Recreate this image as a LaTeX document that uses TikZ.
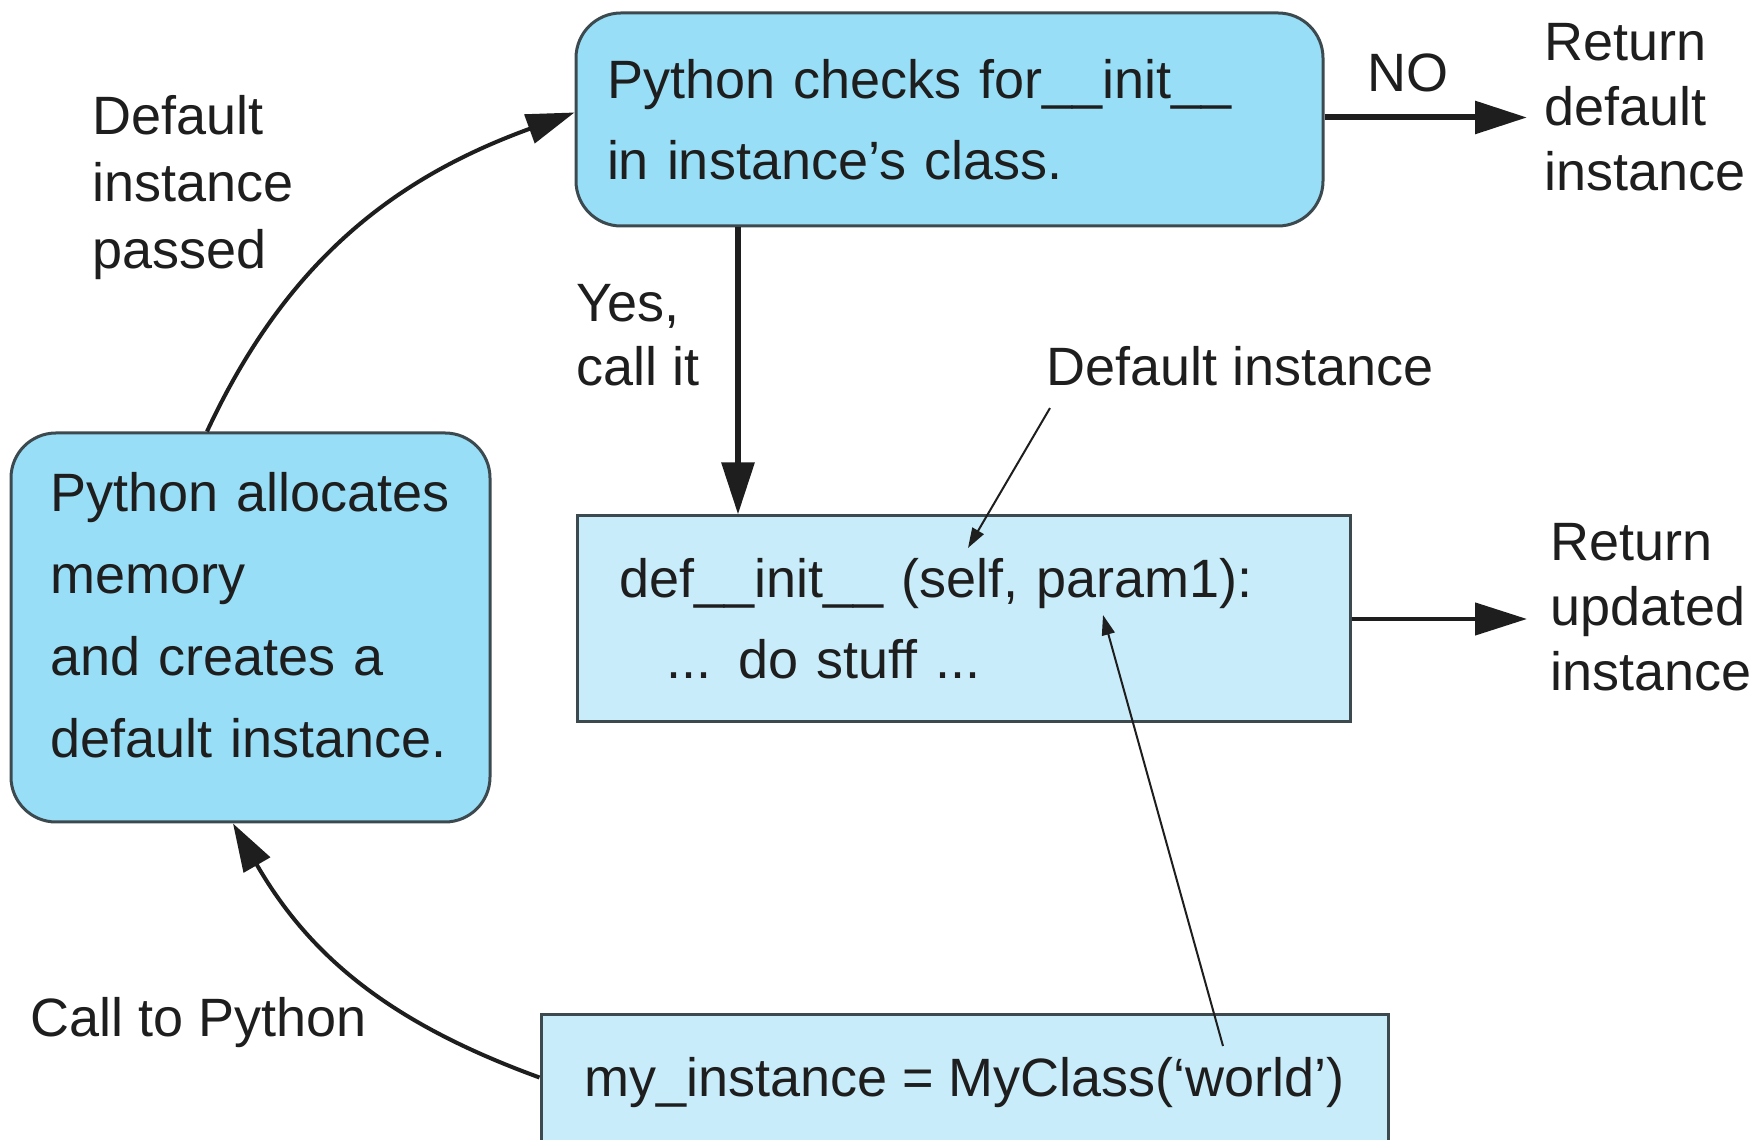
\documentclass[tikz,border=0pt]{standalone}
\usepackage{fontspec}
\setmainfont{Liberation Sans}
\usetikzlibrary{arrows.meta}
\definecolor{boxA}{HTML}{98DEF6}
\definecolor{boxB}{HTML}{C8ECF9}
\definecolor{edgec}{HTML}{3C4A50}
\definecolor{ink}{HTML}{1E1E1E}
\begin{document}
\begin{tikzpicture}[x=1pt,y=1pt,
  txt/.style={font=\fontsize{54}{81}\selectfont, text=ink},
  bigbox/.style={txt, draw=edgec, line width=3pt, fill=boxA, rounded corners=45pt, align=left, inner ysep=0pt},
  codebox/.style={txt, draw=edgec, line width=3pt, fill=boxB, inner ysep=0pt},
  lbl/.style={font=\fontsize{54}{66}\selectfont, text=ink, align=left, anchor=west, inner sep=0pt},
  bigarrow/.style={draw=ink, line width=6pt, -{Triangle[length=52pt,width=32pt]}},
  midarrow/.style={draw=ink, line width=4.5pt, -{Triangle[length=52pt,width=32pt]}},
  curvearrow/.style={draw=ink, line width=4pt, -{Triangle[length=48pt,width=30pt]}},
  thinarrow/.style={draw=ink, line width=2pt, -{Triangle[length=20pt,width=13pt]}}
]
\fill[white] (0,0) rectangle (1754,1140);
\useasboundingbox (0,0) rectangle (1754,1140);

% boxes
\node[bigbox, minimum width=747pt, minimum height=213pt, text width=685pt, inner xsep=31pt]
  (check) at (949.5,1020.5) {Python checks for\_\_init\_\_\\in instance's class.};
\node[bigbox, font=\fontsize{54}{82}\selectfont, minimum width=479pt, minimum height=389pt, text width=400pt, inner xsep=39.5pt, text depth=272pt]
  (alloc) at (250.5,512.5) {Python~allocates\\memory\\and creates a\\default instance.};
\node[codebox, align=left, minimum width=773pt, minimum height=206pt, text width=689pt, inner xsep=42pt]
  (init) at (963.5,521) {def\_\_init\_\_ (self, param1):\\\hspace*{47pt}... do stuff ...};
\node[codebox, align=center, minimum width=847pt, minimum height=135pt]
  (call) at (964.5,57.5) {my\_instance = MyClass(‘world’)};

% labels
\node[lbl, anchor=center] (no) at (1408,1067) {NO};
\node[lbl, font=\fontsize{54}{65}\selectfont] (retdef) at (1544,1033) {Return\\default\\instance};
\node[lbl, font=\fontsize{54}{65}\selectfont] (retupd) at (1550,533) {Return\\updated\\instance};
\node[lbl, font=\fontsize{54}{67}\selectfont] (passed) at (92,952) {Default\\instance\\passed};
\node[lbl, font=\fontsize{54}{64}\selectfont] (yes) at (576,805) {Yes,\\call it};
\node[lbl] (dinst) at (1046,774) {Default instance};
\node[lbl] (callpy) at (30,117) {Call to Python};

% free ends
\coordinate (noend) at (1527,1022.5);
\coordinate (updend) at (1527,521);
\coordinate (yesx) at (738,0);
\coordinate (selfpt) at (968,592);
\coordinate (parampt) at (1103,525);
\coordinate (worldpt) at (1223,94);

% connectors
\draw[bigarrow] ([yshift=2pt]check.east) -- (noend);
\draw[midarrow] (init.east) -- (updend);
\draw[bigarrow] (check.south -| yesx) -- (init.north -| yesx);
\draw[curvearrow] ([xshift=-43.5pt]alloc.north) to[out=65,in=200] ([yshift=7pt]check.west);
\draw[curvearrow] ([yshift=5pt]call.west) to[out=160,in=-60] ([xshift=-17.5pt]alloc.south);
\draw[thinarrow] ([xshift=4pt,yshift=-22pt]dinst.south west) -- (selfpt);
\draw[thinarrow] (worldpt) -- (parampt);
\end{tikzpicture}
\end{document}
